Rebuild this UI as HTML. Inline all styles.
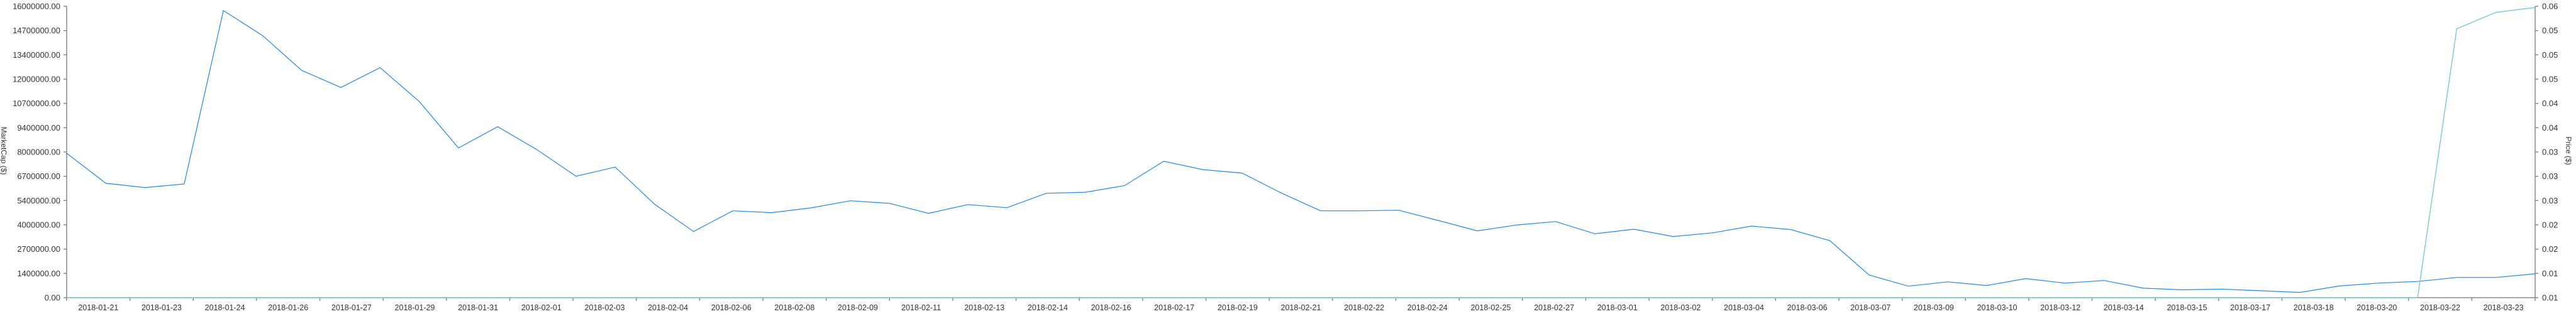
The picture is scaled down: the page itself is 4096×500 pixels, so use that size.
<!DOCTYPE html>
<html><head><meta charset="utf-8"><style>
html,body{margin:0;padding:0;background:#fff;}
svg{display:block;font-family:"Liberation Sans",sans-serif;}
</style></head><body>
<svg id="chart" width="4096" height="500"></svg>
<script>
const startDate = "2018-01-20";
const marketCap = [7.93,6.28,6.05,6.24,15.77,14.39,12.48,11.54,12.63,10.77,8.22,9.39,8.13,6.67,7.17,5.14,3.63,4.77,4.67,4.93,5.32,5.18,4.63,5.11,4.94,5.73,5.79,6.15,7.49,7.03,6.84,5.75,4.77,4.77,4.80,4.24,3.67,3.99,4.18,3.51,3.76,3.36,3.56,3.93,3.74,3.13,1.25,0.63,0.87,0.67,1.05,0.80,0.94,0.52,0.43,0.47,0.38,0.29,0.64,0.80,0.89,1.11,1.11,1.31];
const price = [0.0137,0.0137,0.0137,0.0137,0.0137,0.0137,0.0137,0.0137,0.0137,0.0137,0.0137,0.0137,0.0137,0.0137,0.0137,0.0137,0.0137,0.0137,0.0137,0.0137,0.0137,0.0137,0.0137,0.0137,0.0137,0.0137,0.0137,0.0137,0.0137,0.0137,0.0137,0.0137,0.0137,0.0137,0.0137,0.0137,0.0137,0.0137,0.0137,0.0137,0.0137,0.0137,0.0137,0.0137,0.0137,0.0137,0.0137,0.0137,0.0137,0.0137,0.0137,0.0137,0.0137,0.0137,0.0137,0.0137,0.0137,0.0137,0.0137,0.0137,0.0137,0.0580,0.0607,0.0615];
const leftTicks = ["0.00","1400000.00","2700000.00","4000000.00","5400000.00","6700000.00","8000000.00","9400000.00","10700000.00","12000000.00","13400000.00","14700000.00","16000000.00"];
const rightTicks = ["0.01","0.01","0.02","0.02","0.03","0.03","0.03","0.04","0.04","0.05","0.05","0.05","0.06"];
const xLabels = ["2018-01-21","2018-01-23","2018-01-24","2018-01-26","2018-01-27","2018-01-29","2018-01-31","2018-02-01","2018-02-03","2018-02-04","2018-02-06","2018-02-08","2018-02-09","2018-02-11","2018-02-13","2018-02-14","2018-02-16","2018-02-17","2018-02-19","2018-02-21","2018-02-22","2018-02-24","2018-02-25","2018-02-27","2018-03-01","2018-03-02","2018-03-04","2018-03-06","2018-03-07","2018-03-09","2018-03-10","2018-03-12","2018-03-14","2018-03-15","2018-03-17","2018-03-18","2018-03-20","2018-03-22","2018-03-23"];
const mcMax = 16; // millions
const pMin = 0.0137, pMax = 0.0617;

const L=106, R=4031, T=10, B=474;
const NS="http://www.w3.org/2000/svg";
const svg=document.getElementById('chart');
function el(t,a,p){const e=document.createElementNS(NS,t);for(const k in a)e.setAttribute(k,a[k]);(p||svg).appendChild(e);return e;}
const xs=i=>L+i*(R-L)/(marketCap.length-1);
const yL=v=>B-v/mcMax*(B-T);
const yR=v=>B-(v-pMin)/(pMax-pMin)*(B-T);

// left axis
const la=el('g',{});


el('line',{x1:L,y1:T,x2:L,y2:B,stroke:'#888','stroke-width':1.5},la);
leftTicks.forEach((t,i)=>{
  const y=B-i*(B-T)/(leftTicks.length-1);
  el('line',{x1:L-5,y1:y,x2:L,y2:y,stroke:'#888','stroke-width':1.5},la);
  const tx=el('text',{x:L-10,y:y+4.5,'text-anchor':'end','font-size':13,fill:'#333'},la);
  
  
  tx.textContent=t;
});
const lt=el('text',{x:0,y:0,transform:'translate(2,240) rotate(90)','text-anchor':'middle','font-size':12,fill:'#333'});


lt.textContent='MarketCap ($)';

// right axis
const ra=el('g',{});


el('line',{x1:R,y1:T,x2:R,y2:B,stroke:'#888','stroke-width':1.5},ra);
rightTicks.forEach((t,i)=>{
  const y=B-i*(B-T)/(rightTicks.length-1);
  el('line',{x1:R,y1:y,x2:R+5,y2:y,stroke:'#888','stroke-width':1.5},ra);
  const tx=el('text',{x:R+11,y:y+4.5,'font-size':13,fill:'#333'},ra);
  
  
  tx.textContent=t;
});
const rt=el('text',{x:0,y:0,transform:'translate(4080,240) rotate(90)','text-anchor':'middle','font-size':12,fill:'#333'});


rt.textContent='Price ($)';

// x axis
const xa=el('g',{});


el('line',{x1:L,y1:B,x2:R,y2:B,stroke:'#888','stroke-width':1.5},xa);
const bw=(R-L)/xLabels.length;
for(let i=0;i<=xLabels.length;i++){
  el('line',{x1:L+i*bw,y1:B,x2:L+i*bw,y2:B+5,stroke:'#888','stroke-width':1.5},xa);
}
xLabels.forEach((t,i)=>{
  const tx=el('text',{x:L+(i+0.5)*bw,y:494,'text-anchor':'middle','font-size':12.5,fill:'#333'},xa);
  
  
  tx.textContent=t;
});

// series
const mc=el('path',{d:marketCap.map((v,i)=>(i?'L':'M')+xs(i).toFixed(1)+','+yL(v).toFixed(1)).join(''),fill:'none',stroke:'#1e88e5','stroke-width':1.2});


const pr=el('path',{d:price.map((v,i)=>(i?'L':'M')+xs(i).toFixed(1)+','+yR(v).toFixed(1)).join(''),fill:'none',stroke:'#80cbd4','stroke-width':1.5});


</script>
</body></html>
